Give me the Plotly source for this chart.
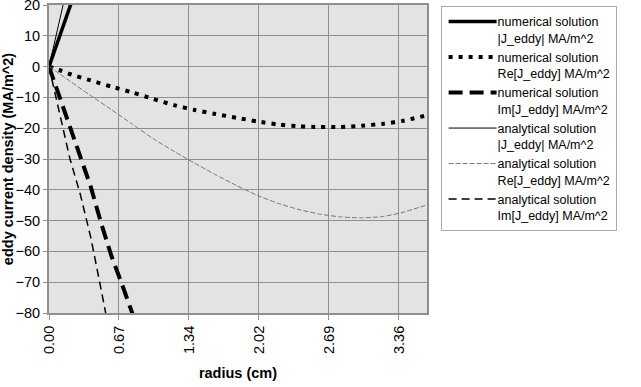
import plotly.graph_objects as go

# radius (cm)
r_full = [0.0, 0.1, 0.2, 0.4, 0.6, 0.8, 1.0, 1.2, 1.4, 1.6, 1.8, 2.0, 2.2, 2.4, 2.6, 2.8, 3.0, 3.2, 3.4, 3.63]
num_re = [0.0, -1.1, -2.4, -4.5, -6.5, -8.4, -10.5, -12.5, -14.1, -15.4, -16.6, -17.8, -18.8, -19.4, -19.6, -19.6, -19.2, -18.6, -17.6, -15.8]
ana_re = [0.0, -2.3, -4.7, -9.4, -14.0, -18.7, -23.4, -27.5, -31.4, -35.1, -38.6, -41.8, -44.4, -46.4, -47.9, -48.8, -49.1, -48.7, -47.3, -44.9]

r_abs = [0.0, 0.1, 0.2, 0.3]
num_abs = [0.0, 9.7, 19.5, 29.0]
ana_abs = [0.0, 14.8, 29.6, 44.4]

r_im_num = [0.0, 0.1, 0.2, 0.3, 0.4, 0.5, 0.6, 0.7, 0.8, 0.9]
num_im = [0.0, -9.5, -19.0, -29.2, -38.9, -50.8, -61.5, -70.6, -80.0, -89.5]

r_im_ana = [0.0, 0.1, 0.2, 0.3, 0.4, 0.5, 0.6]
ana_im = [0.0, -14.5, -29.8, -41.4, -55.3, -72.3, -89.7]

x_tickvals = [0.0, 0.672, 1.344, 2.016, 2.688, 3.36]
x_ticktext = ["0.00", "0.67", "1.34", "2.02", "2.69", "3.36"]
y_tickvals = [-80, -70, -60, -50, -40, -30, -20, -10, 0, 10, 20]

FONT = "Liberation Sans, Arial, Helvetica, sans-serif"

fig = go.Figure()
fig.add_trace(go.Scatter(x=r_abs, y=num_abs, mode="lines",
                         name="numerical solution<br>|J_eddy| MA/m^2",
                         line=dict(color="black", width=3.5)))
fig.add_trace(go.Scatter(x=r_full, y=num_re, mode="lines",
                         name="numerical solution<br>Re[J_eddy] MA/m^2",
                         line=dict(color="black", width=4, dash="4px,6px",
                                   shape="spline", smoothing=0.6)))
fig.add_trace(go.Scatter(x=r_im_num, y=num_im, mode="lines",
                         name="numerical solution<br>Im[J_eddy] MA/m^2",
                         line=dict(color="black", width=4, dash="14px,7px")))
fig.add_trace(go.Scatter(x=r_abs, y=ana_abs, mode="lines",
                         name="analytical solution<br>|J_eddy| MA/m^2",
                         line=dict(color="black", width=1)))
fig.add_trace(go.Scatter(x=r_full, y=ana_re, mode="lines",
                         name="analytical solution<br>Re[J_eddy] MA/m^2",
                         line=dict(color="#777777", width=1, dash="5px,2px",
                                   shape="spline", smoothing=0.6)))
fig.add_trace(go.Scatter(x=r_im_ana, y=ana_im, mode="lines",
                         name="analytical solution<br>Im[J_eddy] MA/m^2",
                         line=dict(color="black", width=1.5, dash="8px,5px")))

fig.update_layout(
    width=641, height=387,
    margin=dict(l=49, r=214, t=5, b=74, autoexpand=False),
    paper_bgcolor="white",
    plot_bgcolor="#e3e3e3",
    font=dict(family=FONT, size=14, color="black"),
    legend=dict(x=1.036, y=0.997, xanchor="left", yanchor="top",
                bgcolor="white", bordercolor="#aaaaaa", borderwidth=1,
                font=dict(family=FONT, size=12.5, color="black"),
                valign="top", tracegroupgap=0, itemwidth=46),
    xaxis=dict(range=[0, 3.63], tickvals=x_tickvals, ticktext=x_ticktext,
               tickangle=-90, showgrid=True, gridcolor="#8f8f8f", gridwidth=1,
               zeroline=False, showline=True, linecolor="#8f8f8f", linewidth=2,
               mirror=True, ticks="outside", ticklen=5, tickcolor="#8f8f8f",
               tickfont=dict(size=14.5), automargin=False,
               ticklabeloverflow="allow",
               title=dict(text="<b>radius (cm)</b>", font=dict(size=14.5))),
    yaxis=dict(range=[-80, 20], tickvals=y_tickvals, showgrid=True,
               gridcolor="#8f8f8f", gridwidth=1, zeroline=False,
               showline=True, linecolor="#8f8f8f", linewidth=2, mirror=True,
               ticks="outside", ticklen=4, tickcolor="#8f8f8f",
               tickfont=dict(size=14.5), automargin=False,
               ticklabeloverflow="allow",
               title=dict(text="<b>eddy current density (MA/m^2)</b>", font=dict(size=14.5))),
)

post = (
    "document.body.style.margin='0';"
    "document.body.style.overflow='hidden';"
    "document.querySelectorAll('.legend .js-line').forEach(function(p){p.setAttribute('d','M7,0h48');});"
)
fig.write_html("out.html", config={"displayModeBar": False}, post_script=post)
